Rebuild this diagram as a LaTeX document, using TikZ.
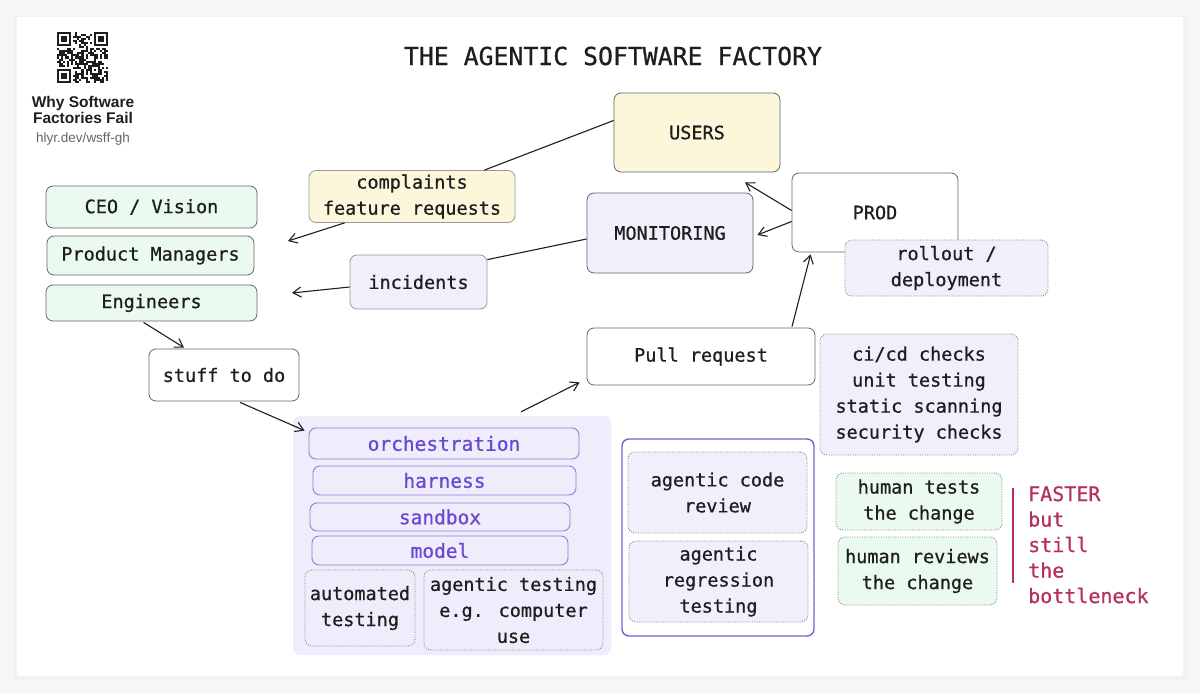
\documentclass[tikz,border=0pt]{standalone}
\usepackage{fontspec}
\usetikzlibrary{arrows.meta,calc}
\newfontfamily\mono[FakeBold=0.7]{DejaVu Sans Mono}
\newfontfamily\lsans{Liberation Sans}
\definecolor{bordergray}{HTML}{666666}
\definecolor{dotgray}{HTML}{8A8A8A}
\definecolor{lav}{HTML}{F0EFFC}
\definecolor{grn}{HTML}{EBFAEE}
\definecolor{yel}{HTML}{FCF7DB}
\definecolor{bigbg}{HTML}{EFEDFB}
\definecolor{purp}{HTML}{8E80D8}
\definecolor{purptext}{HTML}{6A48D2}
\definecolor{frame}{HTML}{7463CF}
\definecolor{redtext}{HTML}{B5305F}
\definecolor{ink}{HTML}{1E1E1E}
\definecolor{outer}{HTML}{F6F6F6}
\tikzset{
  base/.style={rounded corners=7pt, inner sep=0pt, align=center, text=ink,
    font=\mono\fontsize{18.5}{26}\selectfont},
  solidbox/.style={base, draw=bordergray, line width=0.8pt},
  dotbox/.style={base, draw=dotgray, line width=0.9pt, dash pattern=on 1pt off 1.4pt},
  purpbox/.style={base, draw=purp, line width=0.9pt, text=purptext,
    font=\mono\fontsize{19.5}{26}\selectfont},
  conn/.style={draw=ink, line width=1.1pt},
  arr/.style={conn, -{Straight Barb[length=8pt,width=10pt,line width=1.1pt]}},
}
\begin{document}
\begin{tikzpicture}[x=1pt,y=-1pt]
\useasboundingbox (0,0) rectangle (1200,693);
\fill[outer] (0,0) rectangle (1200,693);
\fill[black!5,rounded corners=3pt] (14,15) rectangle (1187,681);
\fill[white] (17,17) rectangle (1183,676);

% QR code
\def\m{2.04}
\pgfmathsetseed{11}
\foreach \i in {0,...,24}{
  \foreach \j in {0,...,24}{
    \pgfmathtruncatemacro{\inf}{(((\i<8)&&(\j<8))||((\i>16)&&(\j<8))||((\i<8)&&(\j>16))) ? 1 : 0}
    \pgfmathsetmacro{\r}{rnd}
    \ifnum\inf=0
      \ifdim\r pt<0.5pt
        \fill[ink] (57+\m*\i,32+\m*\j) rectangle ++(\m,\m);
      \fi
    \fi
  }
}
\foreach \x/\y in {0/0,18/0,0/18}{
  \fill[ink] (57+\m*\x,32+\m*\y) rectangle ++(7*\m,7*\m);
  \fill[white] (57+\m*\x+\m,32+\m*\y+\m) rectangle ++(5*\m,5*\m);
  \fill[ink] (57+\m*\x+2*\m,32+\m*\y+2*\m) rectangle ++(3*\m,3*\m);
}
\fill[ink] (57+\m*16,32+\m*16) rectangle ++(5*\m,5*\m);
\fill[white] (57+\m*17,32+\m*17) rectangle ++(3*\m,3*\m);
\fill[ink] (57+\m*18,32+\m*18) rectangle ++(\m,\m);

\node[font=\lsans\bfseries\fontsize{15.5}{16}\selectfont, align=center, text=ink] (why) at (83,110) {Why Software\\Factories Fail};
\node[font=\lsans\fontsize{13.5}{16}\selectfont, text=black!60] (url) at (83,139) {hlyr.dev/wsff-gh};

% title
\node[font=\mono\fontsize{24.8}{30}\selectfont, text=ink] (title) at (613,56) {THE AGENTIC SOFTWARE FACTORY};

% top right
\node[solidbox, fill=yel, minimum width=166pt, minimum height=79pt] (users) at (697,132.5) {USERS};
\node[solidbox, fill=white, minimum width=166pt, minimum height=79pt] (prod) at (875,212.5) {PROD};
\node[solidbox, fill=lav, minimum width=166pt, minimum height=80pt] (mon) at (670,233) {MONITORING};
\node[dotbox, fill=lav, minimum width=203pt, minimum height=56pt] (rollout) at (946.5,268) {rollout /\\deployment};

% feedback
\node[solidbox, draw=black!40, fill=yel, minimum width=206pt, minimum height=52pt] (compl) at (412,196.5) {complaints\\feature requests};
\node[solidbox, draw=black!40, fill=lav, minimum width=137pt, minimum height=54pt] (inc) at (418.5,282) {incidents};

% left
\node[solidbox, fill=grn, minimum width=211pt, minimum height=42pt] (ceo) at (151.5,207) {CEO / Vision};
\node[solidbox, fill=grn, minimum width=207pt, minimum height=39pt] (pm) at (150.5,255.5) {Product Managers};
\node[solidbox, fill=grn, minimum width=211pt, minimum height=36pt] (eng) at (151.5,303) {Engineers};
\node[solidbox, fill=white, minimum width=150pt, minimum height=52pt] (stuff) at (224,375) {stuff to do};

% PR
\node[solidbox, fill=white, minimum width=228pt, minimum height=57pt] (pull) at (701,356.5) {Pull request};
\node[dotbox, fill=lav, minimum width=198pt, minimum height=121pt] (cicd) at (919,394.5) {ci/cd checks\\unit testing\\static scanning\\security checks};

% agent stack
\node[base, fill=bigbg, minimum width=318pt, minimum height=239pt] (agent) at (452,535.5) {};
\node[purpbox, minimum width=270pt, minimum height=31pt] (orch) at (444,443.5) {orchestration};
\node[purpbox, minimum width=263pt, minimum height=29pt] (harness) at (444.5,480.5) {harness};
\node[purpbox, minimum width=260pt, minimum height=28pt] (sandbox) at (440,517) {sandbox};
\node[purpbox, minimum width=256pt, minimum height=29pt] (model) at (440,550.5) {model};
\node[dotbox, minimum width=110pt, minimum height=76pt] (auto) at (360,608) {automated\\testing};
\node[dotbox, minimum width=179pt, minimum height=80pt] (agtest) at (513.5,610) {agentic testing\\e.g. computer\\use};

% agentic review frame
\node[base, draw=frame, line width=1.4pt, fill=white, minimum width=192pt, minimum height=197pt] (review) at (718,537.5) {};
\node[dotbox, fill=lav, minimum width=179pt, minimum height=81pt] (acr) at (717.5,492.5) {agentic code\\review};
\node[dotbox, fill=lav, minimum width=179pt, minimum height=81pt] (art) at (718.5,581.5) {agentic\\regression\\testing};

% human
\node[dotbox, fill=grn, minimum width=166pt, minimum height=57pt] (ht) at (919,501.5) {human tests\\the change};
\node[dotbox, fill=grn, minimum width=159pt, minimum height=68pt] (hr) at (917.5,571) {human reviews\\the change};
\coordinate (bartop) at (1013,488);
\coordinate (barbot) at (1013,583);
\draw[redtext, line width=1.3pt] (bartop) -- (barbot);
\node[anchor=north west, align=left, inner sep=0pt, text=redtext, font=\mono\fontsize{20}{25.5}\selectfont] (faster) at (1028,486) {FASTER\\but\\still\\the\\bottleneck};

% connectors
\coordinate (leftin1) at (288,241);
\coordinate (leftin2) at (292,293);
\draw[conn] ([yshift=12pt]users.west) -- ([xshift=-31pt]compl.north east);
\draw[arr] ([xshift=36pt]compl.south west) -- (leftin1);
\draw[conn] ([yshift=-6pt]mon.west) -- ([yshift=-5pt]inc.north east);
\draw[arr] ([yshift=-5pt]inc.west) -- (leftin2);
\draw[arr] ([yshift=2pt]prod.west) -- ([xshift=48pt,yshift=-10pt]users.south);
\draw[arr] ([yshift=-9pt]prod.west) -- ([xshift=4pt,yshift=-2pt]mon.east);
\draw[arr] ([xshift=91pt,yshift=1pt]pull.north) -- ([xshift=19pt,yshift=-2pt]prod.south west);
\draw[arr] ([xshift=-8pt,yshift=-1pt]eng.south) -- ([xshift=-40pt,yshift=1pt]stuff.north);
\draw[arr] ([xshift=16pt,yshift=-1pt]stuff.south) -- ([xshift=-4pt,yshift=-3pt]orch.north west);
\draw[arr] ([xshift=69pt,yshift=4pt]agent.north) -- ([xshift=-7pt,yshift=3pt]pull.south west);
\end{tikzpicture}
\end{document}
